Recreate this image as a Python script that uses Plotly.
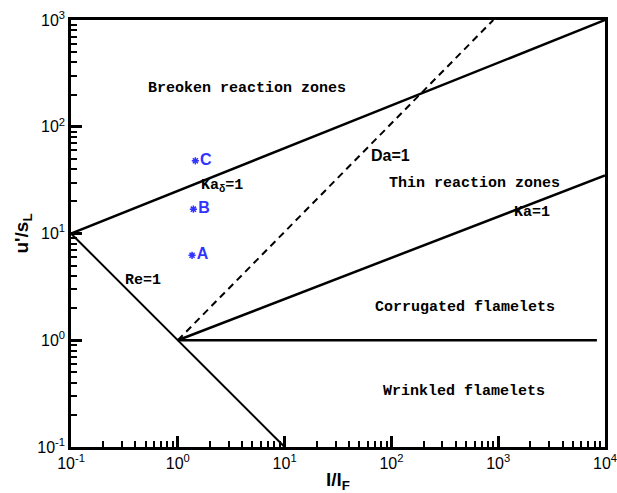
import math
import plotly.graph_objects as go

# ---- data ----
re_x = [0.1, 10]
re_y = [10, 0.1]
kad_x = [0.1, 1e4]
kad_y = [10, 1000]
ka_x = [1, 1e4]
ka_y = [1, 35]
da_x = [1, 900]
da_y = [1, 1000]
flat_x = [1, 8400]
flat_y = [1, 1]

pt_labels = ["A", "B", "C"]
pt_x = [1.36, 1.40, 1.46]
pt_y = [6.25, 16.9, 48]

x_tickvals = [0.1, 1, 10, 100, 1000, 10000]
x_ticktext = ["10<sup>-1</sup>", "10<sup>0</sup>", "10<sup>1</sup>", "10<sup>2</sup>", "10<sup>3</sup>", "10<sup>4</sup>"]
y_tickvals = [0.1, 1, 10, 100, 1000]
y_ticktext = ["10<sup>-1</sup>", "10<sup>0</sup>", "10<sup>1</sup>", "10<sup>2</sup>", "10<sup>3</sup>"]

x_minor = [m * 10 ** k for k in range(-1, 4) for m in range(2, 10)]
y_minor = [m * 10 ** k for k in range(-1, 3) for m in range(2, 10)]

fig = go.Figure()
line_style = dict(color="black", width=2.5)
fig.add_trace(go.Scatter(x=re_x, y=re_y, mode="lines", line=dict(color="black", width=2), showlegend=False))
fig.add_trace(go.Scatter(x=kad_x, y=kad_y, mode="lines", line=line_style, showlegend=False))
fig.add_trace(go.Scatter(x=ka_x, y=ka_y, mode="lines", line=line_style, showlegend=False))
fig.add_trace(go.Scatter(x=da_x, y=da_y, mode="lines", line=dict(color="black", width=2, dash="7px,5px"), showlegend=False))
fig.add_trace(go.Scatter(x=flat_x, y=flat_y, mode="lines", line=line_style, showlegend=False))
fig.add_trace(go.Scatter(
    x=pt_x, y=pt_y, mode="markers+text", text=pt_labels, textposition="middle right",
    marker=dict(symbol="asterisk-open", size=6, line=dict(color="#3333ff", width=1.5), color="#3333ff"),
    textfont=dict(family="Arial, Liberation Sans", size=16, color="#3333ff", weight="bold"),
    showlegend=False, cliponaxis=False))

cour = dict(family="Liberation Mono, Courier New", size=15, color="black", weight="bold")
arialb = dict(family="Arial, Liberation Sans", size=16, color="black", weight="bold")
annos = [
    ("Breoken reaction zones", 4.45, 226, cour),
    ("Da=1", 99, 54, arialb),
    ("Thin reaction zones", 600, 29.1, cour),
    ("Ka=1", 2070, 15.9, cour),
    ("Corrugated flamelets", 489, 2.02, cour),
    ("Wrinkled flamelets", 483, 0.33, cour),
    ("Re=1", 0.472, 3.59, cour),
    ("Ka<sub>δ</sub>=1", 2.6, 27.9, cour),
]
for t, x, y, f in annos:
    fig.add_annotation(x=math.log10(x), y=math.log10(y), text=t,
                       showarrow=False, font=f, xanchor="center", yanchor="middle")

axis_common = dict(
    type="log", showgrid=False, zeroline=False, showline=True, linecolor="black", linewidth=2.5,
    mirror=True, ticks="inside", ticklen=11, tickwidth=2.5, tickcolor="black", automargin=False,
    ticklabeloverflow="allow",
    tickfont=dict(family="Arial, Liberation Sans", size=16, color="black"),
)
fig.update_xaxes(**axis_common, range=[-1, 4], tickvals=x_tickvals, ticktext=x_ticktext,
                 minor=dict(tickvals=x_minor, ticks="inside", ticklen=6, tickwidth=1.5, tickcolor="black"),
                 title=dict(text="l/l<sub>F</sub>", font=dict(family="Arial, Liberation Sans", size=19, color="black", weight="bold"), standoff=2))
fig.update_yaxes(**axis_common, range=[-1, 3], tickvals=y_tickvals, ticktext=y_ticktext,
                 minor=dict(tickvals=y_minor, ticks="inside", ticklen=6, tickwidth=1.5, tickcolor="black"),
                 title=dict(text="u'/s<sub>L</sub>", font=dict(family="Arial, Liberation Sans", size=19, color="black", weight="bold"), standoff=4))

fig.update_layout(width=617, height=493, margin=dict(l=71, r=12, t=20, b=46),
                  plot_bgcolor="white", paper_bgcolor="white")
fig.write_html("out.html", config={"displayModeBar": False},
               post_script="document.body.style.margin='0';document.body.style.overflow='hidden';")
